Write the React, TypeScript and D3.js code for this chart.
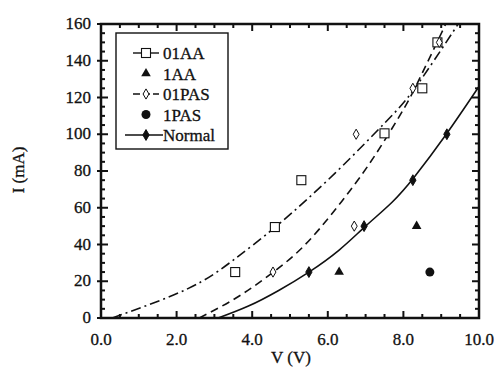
import { useEffect, useRef } from 'react';
import * as d3 from 'd3';

// measured points
const aa01 = [[3.55, 25], [4.6, 49.5], [5.3, 75], [7.5, 100.5], [8.5, 125], [8.9, 150]];
const aa1 = [[6.3, 25], [8.35, 50]];
const pas01 = [[4.55, 25], [6.7, 50], [6.75, 100], [8.25, 125], [8.95, 150]];
const pas1 = [[8.7, 25]];
const normal = [[5.5, 25], [6.96, 50], [8.25, 75], [9.15, 100]];

// fitted curves
const fitAA = [[0.3, 0], [2.3, 16], [3.5, 31.5], [4.7, 51], [6.2, 79], [7.5, 106], [8.3, 125], [9.45, 160]];
const fitPAS = [[2.6, 0], [3.5, 10], [4.3, 21], [5.1, 34], [5.8, 49], [6.5, 67], [7.2, 87], [7.9, 110], [8.35, 127], [9.12, 160]];
const fitNormal = [[3.1, 0], [3.9, 6.5], [4.7, 15], [5.5, 25], [6.3, 37], [7.0, 50], [7.7, 63], [8.3, 77], [9.1, 99], [10, 126]];

const xTicks = [0, 2, 4, 6, 8, 10];
const yTicks = [0, 20, 40, 60, 80, 100, 120, 140, 160];

const legendItems = ['01AA', '1AA', '01PAS', '1PAS', 'Normal'];

export default function App() {
  const svgRef = useRef<SVGSVGElement>(null);

  useEffect(() => {
    if (!svgRef.current) return;
    const svg = d3.select(svgRef.current);
    svg.selectAll('*').remove();

    const x = d3.scaleLinear().domain([0, 10]).range([101, 479]);
    const y = d3.scaleLinear().domain([0, 160]).range([318, 24]);
    const font = 'Liberation Serif, Times New Roman, serif';
    const ink = '#111';

    const line = d3.line<number[]>().x(d => x(d[0])).y(d => y(d[1])).curve(d3.curveNatural);

    const plot = svg.append('g');
    plot.append('path').datum(fitAA).attr('d', line).attr('fill', 'none').attr('stroke', ink)
      .attr('stroke-width', 1.6).attr('stroke-dasharray', '10,4,2,4');
    plot.append('path').datum(fitPAS).attr('d', line).attr('fill', 'none').attr('stroke', ink)
      .attr('stroke-width', 1.6).attr('stroke-dasharray', '8,5');
    plot.append('path').datum(fitNormal).attr('d', line).attr('fill', 'none').attr('stroke', ink)
      .attr('stroke-width', 1.6);

    const square = (g: any, cx: number, cy: number) =>
      g.append('rect').attr('x', cx - 4.5).attr('y', cy - 4.5).attr('width', 9).attr('height', 9)
        .attr('fill', 'white').attr('stroke', ink).attr('stroke-width', 1.1);
    const diamond = (g: any, cx: number, cy: number, filled: boolean) =>
      g.append('path').attr('d', d3.symbol(d3.symbolDiamond, filled ? 34 : 30)())
        .attr('transform', 'translate(' + cx + ',' + cy + ')')
        .attr('fill', filled ? ink : 'white').attr('stroke', ink).attr('stroke-width', 1);
    const triangle = (g: any, cx: number, cy: number) =>
      g.append('path').attr('d', d3.symbol(d3.symbolTriangle, 40)())
        .attr('transform', 'translate(' + cx + ',' + cy + ')').attr('fill', ink);
    const circle = (g: any, cx: number, cy: number) =>
      g.append('circle').attr('cx', cx).attr('cy', cy).attr('r', 4.5).attr('fill', ink);

    aa01.forEach(d => square(plot, x(d[0]), y(d[1])));
    pas01.forEach(d => diamond(plot, x(d[0]), y(d[1]), false));
    normal.forEach(d => diamond(plot, x(d[0]), y(d[1]), true));
    aa1.forEach(d => triangle(plot, x(d[0]), y(d[1])));
    pas1.forEach(d => circle(plot, x(d[0]), y(d[1])));

    // frame
    const ax = svg.append('g').attr('stroke', ink);
    ax.append('rect').attr('x', x(0)).attr('y', y(160)).attr('width', x(10) - x(0)).attr('height', y(0) - y(160))
      .attr('fill', 'none').attr('stroke-width', 2.5);

    d3.range(0, 10.01, 0.5).forEach(v => {
      const major = Math.abs(v % 2) < 1e-6;
      const len = major ? 7 : 4;
      ax.append('line').attr('x1', x(v)).attr('x2', x(v)).attr('y1', y(0)).attr('y2', y(0) - len).attr('stroke-width', 2);
      ax.append('line').attr('x1', x(v)).attr('x2', x(v)).attr('y1', y(160)).attr('y2', y(160) + len).attr('stroke-width', 2);
    });
    d3.range(0, 160.01, 5).forEach(v => {
      const major = v % 20 === 0;
      const len = major ? 7 : 4;
      ax.append('line').attr('x1', x(0) - (major ? 4 : 0)).attr('x2', x(0) + len).attr('y1', y(v)).attr('y2', y(v)).attr('stroke-width', 2);
      ax.append('line').attr('x1', x(10)).attr('x2', x(10) - len).attr('y1', y(v)).attr('y2', y(v)).attr('stroke-width', 2);
    });

    const labels = svg.append('g').attr('font-family', font).attr('font-size', 17).attr('fill', ink)
      .attr('stroke', ink).attr('stroke-width', 0.3);
    xTicks.forEach(v => {
      labels.append('text').attr('x', x(v)).attr('y', y(0) + 27).attr('text-anchor', 'middle').text(v.toFixed(1));
    });
    yTicks.forEach(v => {
      labels.append('text').attr('x', x(0) - 10).attr('y', y(v) + 5).attr('text-anchor', 'end').text(v);
    });
    labels.append('text').attr('x', 291).attr('y', 363).attr('text-anchor', 'middle').text('V (V)');
    labels.append('text').attr('transform', 'translate(24,170) rotate(-90)').attr('text-anchor', 'middle').text('I (mA)');

    // legend
    const lg = svg.append('g');
    lg.append('rect').attr('x', 116).attr('y', 33).attr('width', 112).attr('height', 116)
      .attr('fill', 'white').attr('stroke', ink).attr('stroke-width', 1.4);
    legendItems.forEach((name, i) => {
      const cy = 53 + i * 20.5;
      const cx = 146;
      if (name === '01AA') {
        lg.append('line').attr('x1', 133).attr('x2', 159).attr('y1', cy).attr('y2', cy).attr('stroke', ink).attr('stroke-width', 1.4);
        square(lg, cx, cy);
      } else if (name === '1AA') {
        triangle(lg, cx, cy);
      } else if (name === '01PAS') {
        lg.append('line').attr('x1', 133).attr('x2', 159).attr('y1', cy).attr('y2', cy).attr('stroke', ink)
          .attr('stroke-width', 1.4).attr('stroke-dasharray', '7,3');
        diamond(lg, cx, cy, false);
      } else if (name === '1PAS') {
        circle(lg, cx, cy);
      } else {
        lg.append('line').attr('x1', 125).attr('x2', 163).attr('y1', cy).attr('y2', cy).attr('stroke', ink).attr('stroke-width', 1.4);
        diamond(lg, cx, cy, true);
      }
      lg.append('text').attr('x', 163).attr('y', cy + 6).attr('font-family', font).attr('font-size', 17)
        .attr('fill', ink).attr('stroke', ink).attr('stroke-width', 0.3).text(name);
    });
  }, []);

  return (
    <svg ref={svgRef} width={496} height={368}
      style={{ position: 'absolute', left: 0, top: 0, background: 'white' }}></svg>
  );
}
